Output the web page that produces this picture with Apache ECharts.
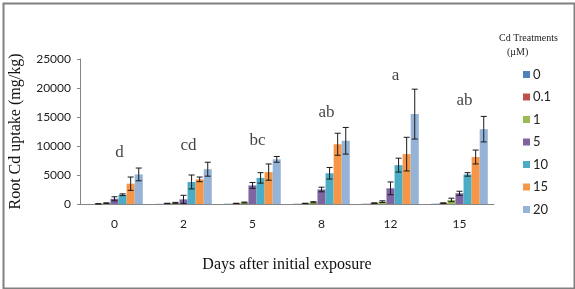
<!DOCTYPE html>
<html><head><meta charset="utf-8">
<script src="https://cdn.jsdelivr.net/npm/echarts@6/dist/echarts.min.js"></script>
<style>html,body{margin:0;padding:0;background:#fff}#c{width:575px;height:289px}</style>
</head><body><div id="c"></div>
<script>
const categories = ['0','2','5','8','12','15'];
const treatments = ['0','0.1','1','5','10','15','20'];
const v0  = [10, 30, 50, 50, 50, 50];
const v01 = [30, 100, 100, 100, 150, 150];
const v1  = [150, 200, 250, 300, 400, 700];
const v5  = [900, 800, 3200, 2500, 2700, 1850];
const v10 = [1600, 3800, 4500, 5300, 6700, 5100];
const v15 = [3500, 4250, 5500, 10300, 8600, 8100];
const v20 = [5100, 6000, 7700, 10900, 15500, 12900];
const e0  = [0, 0, 0, 0, 0, 0];
const e01 = [20, 30, 30, 30, 50, 50];
const e1  = [50, 80, 80, 100, 150, 300];
const e5  = [350, 700, 500, 400, 1100, 350];
const e10 = [150, 1200, 900, 1000, 1200, 300];
const e15 = [1150, 400, 1400, 1900, 2900, 1200];
const e20 = [1100, 1200, 500, 2300, 4300, 2200];
const letters = ['d','cd','bc','ab','a','ab'];
const letterY = [8800, 10000, 10900, 15700, 22200, 17800];
const yTicks = [0, 5000, 10000, 15000, 20000, 25000];

const values = [v0, v01, v1, v5, v10, v15, v20];
const errors = [e0, e01, e1, e5, e10, e15, e20];
const colors = ['#4F81BD','#C0504D','#9BBB59','#8064A2','#4BACC6','#F79646','#95B3D7'];
const GAP = 0.18;
const N = treatments.length;

function errRender(k){
  return function(params, api){
    const x = api.value(0), m = api.value(1), e = api.value(2);
    if (!e) return;
    const band = api.size([1,0])[0];
    const bw = band*(1-GAP)/N;
    const off = -band*(1-GAP)/2 + bw*(k+0.5);
    const top = api.coord([x, m+e]);
    const bot = api.coord([x, Math.max(m-e,0)]);
    const cx = top[0] + off;
    const cap = 3;
    const st = {stroke:'#1a1a1a', lineWidth:1};
    return {type:'group', children:[
      {type:'line', shape:{x1:cx,y1:top[1],x2:cx,y2:bot[1]}, style:st},
      {type:'line', shape:{x1:cx-cap,y1:top[1],x2:cx+cap,y2:top[1]}, style:st},
      {type:'line', shape:{x1:cx-cap,y1:bot[1],x2:cx+cap,y2:bot[1]}, style:st}
    ]};
  };
}

const series = [];
treatments.forEach((t,k)=>{
  series.push({name:t, type:'bar', data:values[k], barGap:'0%', barCategoryGap:(GAP*100)+'%',
    itemStyle:{color:colors[k]}, animation:false});
});
treatments.forEach((t,k)=>{
  series.push({type:'custom', renderItem:errRender(k), z:5, animation:false,
    data: values[k].map((v,i)=>[i, v, errors[k][i]])});
});
series.push({type:'scatter', symbolSize:0, animation:false,
  data: letters.map((l,i)=>[i, letterY[i]]),
  label:{show:true, position:'inside', offset:[5,0],
    formatter:p=>letters[p.dataIndex],
    fontFamily:'Liberation Serif', fontSize:17, color:'#111'}});

const chart = echarts.init(document.getElementById('c'), null, {renderer:'canvas'});
chart.setOption({
  animation:false,
  backgroundColor:'#fff',
  grid:{left:80, right:81, top:59, bottom:85},
  title:[
    {text:'Cd Treatments', left:494, top:28, textStyle:{fontFamily:'Liberation Serif', fontSize:10, fontWeight:'normal', color:'#222'}},
    {text:'(µM)', left:502, top:42, textStyle:{fontFamily:'Liberation Serif', fontSize:10, fontWeight:'normal', color:'#222'}}
  ],
  legend:{orient:'vertical', left:518, top:63, itemWidth:7, itemHeight:7, itemGap:9.5,
    data:treatments, icon:'rect',
    textStyle:{fontFamily:'Lato', fontSize:13, color:'#222', padding:[0,0,0,-2]}},
  xAxis:{type:'category', data:categories,
    axisLine:{lineStyle:{color:'#868686'}}, axisTick:{show:false},
    axisLabel:{fontFamily:'Lato', fontSize:12, color:'#222', margin:14},
    name:'Days after initial exposure', nameLocation:'middle', nameGap:53,
    nameTextStyle:{fontFamily:'Liberation Serif', fontSize:16, color:'#111'}},
  yAxis:{type:'value', min:0, max:25000, interval:5000,
    axisLine:{show:true, lineStyle:{color:'#868686'}},
    axisTick:{show:true, length:3, lineStyle:{color:'#868686'}},
    splitLine:{show:false},
    axisLabel:{fontFamily:'Lato', fontSize:12, color:'#222', margin:9,
      formatter:v=> yTicks.includes(v) ? String(v) : ''},
    name:'Root Cd uptake (mg/kg)', nameLocation:'middle', nameGap:56,
    nameTextStyle:{fontFamily:'Liberation Serif', fontSize:16, color:'#111'}},
  graphic:[{type:'rect', left:1, top:1, shape:{width:571, height:285},
    style:{fill:'none', stroke:'#808080', lineWidth:2}, silent:true}],
  series
});
</script></body></html>
